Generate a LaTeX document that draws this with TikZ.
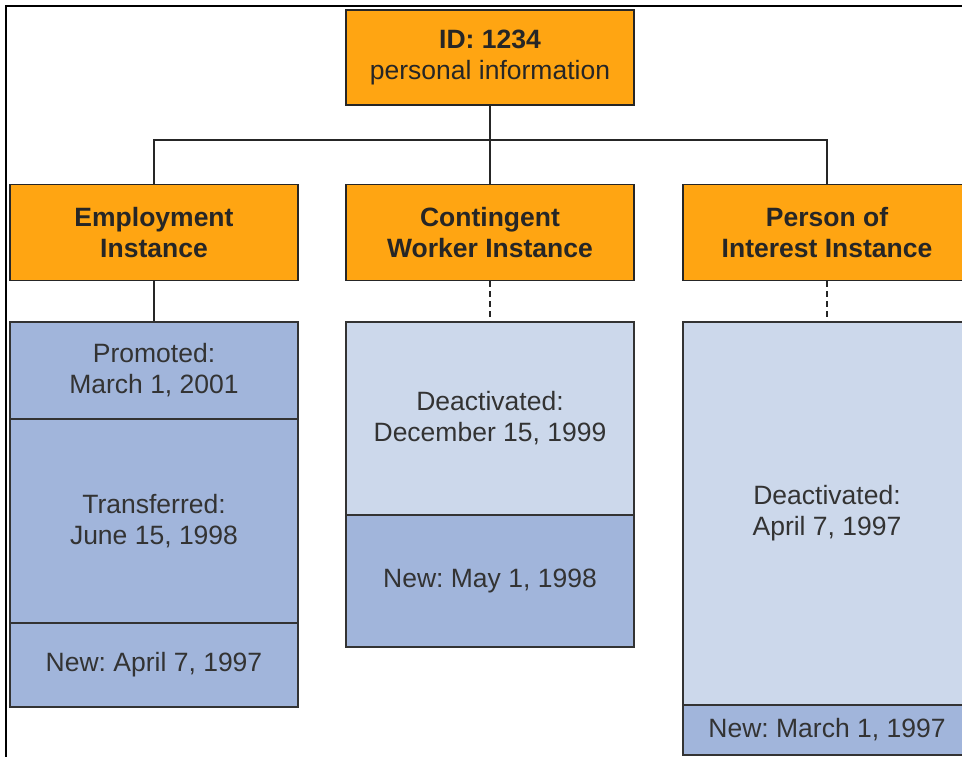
\documentclass[tikz,border=0pt]{standalone}
\usepackage{fontspec}
\setmainfont{Liberation Sans}
\usetikzlibrary{calc}
\frenchspacing

\definecolor{instorange}{RGB}{255,165,18}
\definecolor{evdark}{RGB}{161,181,219}
\definecolor{evlight}{RGB}{204,216,235}

\begin{document}
\begin{tikzpicture} [x=1pt, y=-1pt,
  inst/.style={draw=black!85, line width=1.5pt, fill=instorange, minimum width=288pt, minimum height=96pt, align=center, text=black!85, inner sep=0pt, font=\fontsize{26.5}{31}\selectfont\bfseries},
  ev/.style={draw=black!80, line width=1.5pt, minimum width=288pt, align=center, text=black!80, inner sep=0pt, font=\fontsize{26.5}{31}\selectfont},
  conn/.style={black!85, line width=1.5pt}]
\useasboundingbox (0,0) rectangle (962,757);
\draw[black, line width=1.2pt] (6,757) -- (6,6) -- (962,6);

\node[inst, minimum height=95pt, font=\fontsize{26.5}{31}\selectfont] (id) at (490,57.5) {\textbf{ID: 1234}\\personal information};
\node[inst] (emp) at (154,232.5) {Employment\\Instance};
\node[inst] (cwi) at (490,232.5) {Contingent\\Worker Instance};
\node[inst] (poi) at (827,232.5) {Person of\\Interest Instance};

\foreach \nm/\cx/\cy/\h/\col/\txt in {
  e1/154/370.5/97/evdark/{Promoted:\\March 1, 2001},
  e2/154/521/204/evdark/{Transferred:\\June 15, 1998},
  e3/154/665/84/evdark/{New: April 7, 1997},
  c1/490/418.5/193/evlight/{Deactivated:\\December 15, 1999},
  c2/490/581/132/evdark/{New: May 1, 1998},
  p1/827/513.5/383/evlight/{Deactivated:\\April 7, 1997},
  p2/827/730/50/evdark/{New: March 1, 1997}}
  \node[ev, fill=\col, minimum height=\h] (\nm) at (\cx,\cy) {\txt};

\coordinate (bus) at (490,140);
\draw[conn] (id.south) -- (cwi.north);
\draw[conn] (emp.north) -- (emp.north |- bus) -- (poi.north |- bus) -- (poi.north);

\draw[conn] (emp.south) -- (e1.north);
\draw[conn, dash pattern=on 6pt off 4pt] (cwi.south) -- (c1.north);
\draw[conn, dash pattern=on 6pt off 4pt] (poi.south) -- (p1.north);

\end{tikzpicture}
\end{document}
